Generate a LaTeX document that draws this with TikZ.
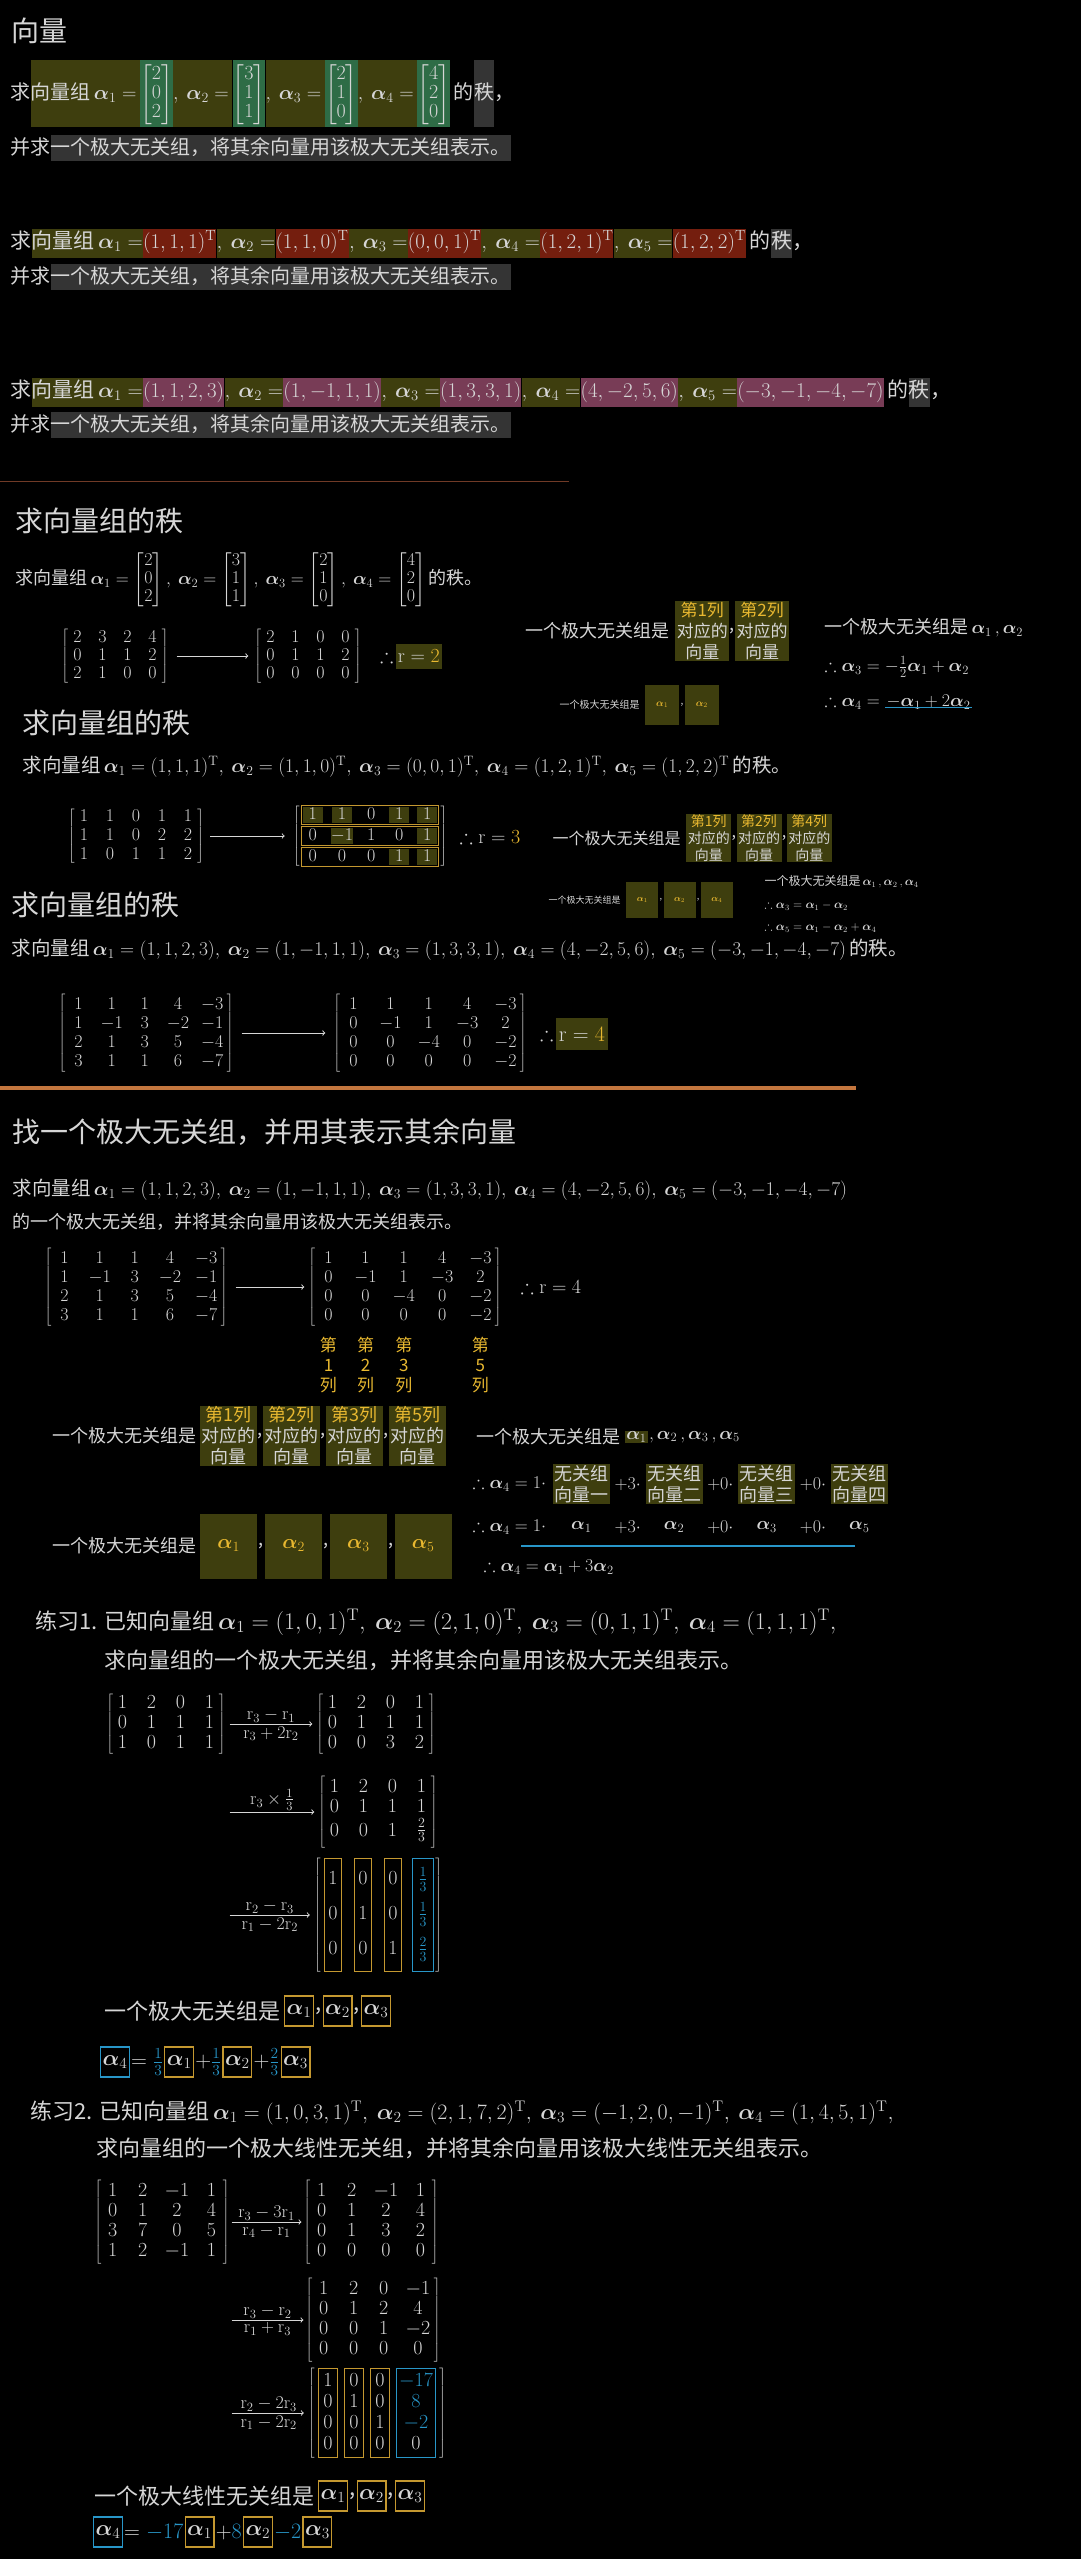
\documentclass[tikz,border=0pt]{standalone}
\usepackage{fix-cm}
\usepackage{amsmath,amssymb}
\usepackage[no-math]{fontspec}
\setmainfont{Noto Sans CJK SC}
\usetikzlibrary{positioning,matrix,fit}

\definecolor{txt}{RGB}{214,214,214}
\definecolor{olv}{RGB}{62,62,14}
\definecolor{grn}{RGB}{46,108,70}
\definecolor{rdb}{RGB}{116,30,14}
\definecolor{pnk}{RGB}{120,60,86}
\definecolor{gry}{RGB}{52,52,52}
\definecolor{yel}{RGB}{232,184,48}
\definecolor{ybox}{RGB}{196,152,48}
\definecolor{blu}{RGB}{40,150,200}
\definecolor{org}{RGB}{196,118,62}
\definecolor{brn}{RGB}{112,58,38}

\newcommand\al[1]{\boldsymbol{\alpha}_{#1}}
\newcommand\rw[1]{\mathrm{r}_{#1}}
\newcommand\Tp{^{\mathrm{T}}}

\tikzset{
  f9/.style={font=\fontsize{9}{11}\selectfont},
  f10/.style={font=\fontsize{10}{12}\selectfont},
  f12/.style={font=\fontsize{12}{15}\selectfont},
  f16/.style={font=\fontsize{16}{19}\selectfont},
  f18/.style={font=\fontsize{18}{18}\selectfont},
  f19/.style={font=\fontsize{19.5}{19.5}\selectfont},
  f20/.style={font=\fontsize{20}{20}\selectfont},
  f22/.style={font=\fontsize{22}{24}\selectfont},
  f28/.style={font=\fontsize{28}{32}\selectfont},
  tall/.style={inner sep=0pt, font=\fontsize{20}{19}\selectfont, text height=40pt, text depth=27pt},
  low/.style={inner sep=0pt, f20, text height=19pt, text depth=7pt},
  mid/.style={inner sep=0pt, font=\fontsize{21}{21}\selectfont, text height=20pt, text depth=9pt},
  colbox/.style={fill=olv, align=center, inner sep=1pt},
  abox/.style={fill=olv, text=yel, inner sep=0pt},
  ybx/.style={draw=ybox, line width=1.2pt, inner sep=2pt},
  bbx/.style={draw=blu, line width=1.2pt, inner sep=2pt},
  mat/.style={matrix of math nodes, left delimiter={[}, right delimiter={]},
    inner sep=2pt, row sep=0pt, column sep=#1,
    every delimiter/.style={minimum width=0pt, text height={}, text depth={}},
    nodes={anchor=center, inner sep=0pt, minimum width=12pt}},
  arr/.style={->, line width=1pt, draw=txt},
}

\begin{document}
\begin{tikzpicture}[x=1pt, y=-1pt, every node/.append style={text=txt}]
\useasboundingbox (0,0) rectangle (1081,2559);
\fill[black] (0,0) rectangle (1081,2559);

% ---- 向量
\node[f28, anchor=west] (t1) at (8,31) {向量};
\node[tall, anchor=west] (a1) at (10,93) {求};
\node[tall, fill=olv, right=0pt of a1] (a2) {向量组\,$\al1=$\,};
\node[tall, fill=grn, right=0pt of a2] (a3) {$\begin{bmatrix}2\\0\\2\end{bmatrix}$};
\node[tall, fill=olv, right=0pt of a3] (a4) {$,\ \al2=$\,};
\node[tall, fill=grn, right=0pt of a4] (a5) {$\begin{bmatrix}3\\1\\1\end{bmatrix}$};
\node[tall, fill=olv, right=0pt of a5] (a6) {$,\ \al3=$\,};
\node[tall, fill=grn, right=0pt of a6] (a7) {$\begin{bmatrix}2\\1\\0\end{bmatrix}$};
\node[tall, fill=olv, right=0pt of a7] (a8) {$,\ \al4=$\,};
\node[tall, fill=grn, right=0pt of a8] (a9) {$\begin{bmatrix}4\\2\\0\end{bmatrix}$};
\node[tall, right=0pt of a9] (a10) {\,的};
\node[tall, fill=gry, right=0pt of a10] (a11) {秩};
\node[tall, right=0pt of a11] (a12) {，};
\node[low, anchor=west] (b1) at (10,148) {并求};
\node[low, fill=gry, right=0pt of b1] (b2) {一个极大无关组，将其余向量用该极大无关组表示。};

\node[mid, anchor=west] (c1) at (10,243) {求};
\node[mid, fill=olv, right=0pt of c1] (c2) {向量组\,$\al1=$};
\node[mid, fill=rdb, right=0pt of c2] (c3) {$(1,1,1)\Tp$};
\node[mid, fill=olv, right=0pt of c3] (c4) {$,\ \al2=$};
\node[mid, fill=rdb, right=0pt of c4] (c5) {$(1,1,0)\Tp$};
\node[mid, fill=olv, right=0pt of c5] (c6) {$,\ \al3=$};
\node[mid, fill=rdb, right=0pt of c6] (c7) {$(0,0,1)\Tp$};
\node[mid, fill=olv, right=0pt of c7] (c8) {$,\ \al4=$};
\node[mid, fill=rdb, right=0pt of c8] (c9) {$(1,2,1)\Tp$};
\node[mid, fill=olv, right=0pt of c9] (c10) {$,\ \al5=$};
\node[mid, fill=rdb, right=0pt of c10] (c11) {$(1,2,2)\Tp$};
\node[mid, right=0pt of c11] (c12) {\,的};
\node[mid, fill=gry, right=0pt of c12] (c13) {秩};
\node[mid, right=0pt of c13] (c14) {，};
\node[low, anchor=west] (d1) at (10,277) {并求};
\node[low, fill=gry, right=0pt of d1] (d2) {一个极大无关组，将其余向量用该极大无关组表示。};

\node[mid, anchor=west] (e1) at (10,392) {求};
\node[mid, fill=olv, right=0pt of e1] (e2) {向量组\,$\al1=$};
\node[mid, fill=pnk, right=0pt of e2] (e3) {$(1,1,2,3)$};
\node[mid, fill=olv, right=0pt of e3] (e4) {$,\ \al2=$};
\node[mid, fill=pnk, right=0pt of e4] (e5) {$(1,-1,1,1)$};
\node[mid, fill=olv, right=0pt of e5] (e6) {$,\ \al3=$};
\node[mid, fill=pnk, right=0pt of e6] (e7) {$(1,3,3,1)$};
\node[mid, fill=olv, right=0pt of e7] (e8) {$,\ \al4=$};
\node[mid, fill=pnk, right=0pt of e8] (e9) {$(4,-2,5,6)$};
\node[mid, fill=olv, right=0pt of e9] (e10) {$,\ \al5=$};
\node[mid, fill=pnk, right=0pt of e10] (e11) {$(-3,-1,-4,-7)$};
\node[mid, right=0pt of e11] (e12) {\,的};
\node[mid, fill=gry, right=0pt of e12] (e13) {秩};
\node[mid, right=0pt of e13] (e14) {，};
\node[low, anchor=west] (f1) at (10,425) {并求};
\node[low, fill=gry, right=0pt of f1] (f2) {一个极大无关组，将其余向量用该极大无关组表示。};

\draw[brn, line width=1pt] (0,481) -- (569,481);

% ---- 求向量组的秩 (1)
\node[f28, anchor=west] (t2) at (12,521) {求向量组的秩};
\node[f18, anchor=west] (q2) at (12,580) {求向量组\,$\al1=\begin{bmatrix}2\\0\\2\end{bmatrix},\ \al2=\begin{bmatrix}3\\1\\1\end{bmatrix},\ \al3=\begin{bmatrix}2\\1\\0\end{bmatrix},\ \al4=\begin{bmatrix}4\\2\\0\end{bmatrix}$\,的秩。};
\matrix[mat=13pt, nodes={f18, text height=13pt, text depth=5pt}] (m2a) at (115,656) {2&3&2&4\\0&1&1&2\\2&1&0&0\\};
\matrix[mat=13pt, nodes={f18, text height=13pt, text depth=5pt}] (m2b) at (308,656) {2&1&0&0\\0&1&1&2\\0&0&0&0\\};
\draw[arr, shorten <=16pt, shorten >=14pt] (m2a.east) -- (m2b.west);
\node[f20, anchor=west, inner sep=0pt] (th2) at (380,656) {$\therefore$};
\node[f20, fill=olv, right=2pt of th2, minimum height=25pt, inner sep=2pt] (rk2) {$\mathrm{r}=\textcolor{yel}{2}$};

\node[f18, anchor=west] (g2) at (522,631) {一个极大无关组是};
\node[colbox, font=\fontsize{17}{21}\selectfont, text width=52pt, right=2pt of g2] (c21) {\textcolor{yel}{第1列}\\对应的\\向量};
\node[f18, inner sep=0pt, right=0pt of c21] (k21) {,};
\node[colbox, font=\fontsize{17}{21}\selectfont, text width=52pt, right=0pt of k21] (c22) {\textcolor{yel}{第2列}\\对应的\\向量};
\node[f10, anchor=west] (h2) at (556,705) {一个极大无关组是};
\node[abox, f10, minimum width=34pt, minimum height=40pt, right=2pt of h2] (s21) {$\al1$};
\node[f10, inner sep=1pt, right=0pt of s21] (sk2) {,};
\node[abox, f10, minimum width=34pt, minimum height=40pt, right=0pt of sk2] (s22) {$\al2$};
\node[f18, anchor=west] (r2a) at (821,628) {一个极大无关组是\,$\al1\,,\al2$};
\node[f18, anchor=west] (r2b) at (821,667) {$\therefore\al3=-\frac{1}{2}\al1+\al2$};
\node[f18, anchor=west] (r2c) at (821,702) {$\therefore\al4=$};
\node[f18, inner sep=1pt, right=2pt of r2c] (r2d) {$-\al1+2\al2$};
\draw[blu, line width=1.6pt] ([yshift=3pt]r2d.south west) -- ([yshift=3pt]r2d.south east);

% ---- 求向量组的秩 (2)
\node[f28, anchor=west] (t3) at (19,723) {求向量组的秩};
\node[f19, anchor=west] (q3) at (19,767) {求向量组\,$\al1=(1,1,1)\Tp,\ \al2=(1,1,0)\Tp,\ \al3=(0,0,1)\Tp,\ \al4=(1,2,1)\Tp,\ \al5=(1,2,2)\Tp$\,的秩。};
\matrix[mat=14pt, row sep=3pt, nodes={f18, text height=12pt, text depth=4pt}] (m3a) at (136,836) {1&1&0&1&1\\1&1&0&2&2\\1&0&1&1&2\\};
\matrix[mat=8pt, row sep=5pt, nodes={f18, text height=12pt, text depth=4pt, minimum width=20pt}] (m3b) at (370,836) {|[fill=olv]|1&|[fill=olv]|1&0&|[fill=olv]|1&|[fill=olv]|1\\0&|[fill=olv]|-1&1&0&|[fill=olv]|1\\0&0&0&|[fill=olv]|1&|[fill=olv]|1\\};
\node[ybx, inner sep=1pt, fit=(m3b-1-1)(m3b-1-5)] (w31) {};
\node[ybx, inner sep=1pt, fit=(m3b-2-1)(m3b-2-5)] (w32) {};
\node[ybx, inner sep=1pt, fit=(m3b-3-1)(m3b-3-5)] (w33) {};
\draw[arr, shorten <=14pt, shorten >=16pt] (m3a.east) -- (m3b.west);
\node[f20, anchor=west] (th3) at (456,837) {$\therefore\mathrm{r}=\textcolor{yel}{3}$};

\node[f16, anchor=west] (g3) at (549,838) {一个极大无关组是};
\node[colbox, font=\fontsize{14}{17}\selectfont, text width=43pt, right=2pt of g3] (c31) {\textcolor{yel}{第1列}\\对应的\\向量};
\node[f16, inner sep=0pt, right=0pt of c31] (k31) {,};
\node[colbox, font=\fontsize{14}{17}\selectfont, text width=43pt, right=0pt of k31] (c32) {\textcolor{yel}{第2列}\\对应的\\向量};
\node[f16, inner sep=0pt, right=0pt of c32] (k32) {,};
\node[colbox, font=\fontsize{14}{17}\selectfont, text width=43pt, right=0pt of k32] (c33) {\textcolor{yel}{第4列}\\对应的\\向量};
\node[f9, anchor=west] (h3) at (545,900) {一个极大无关组是};
\node[abox, f9, minimum width=32pt, minimum height=36pt, right=2pt of h3] (s31) {$\al1$};
\node[f9, inner sep=1pt, right=0pt of s31] (sk31) {,};
\node[abox, f9, minimum width=32pt, minimum height=36pt, right=0pt of sk31] (s32) {$\al2$};
\node[f9, inner sep=1pt, right=0pt of s32] (sk32) {,};
\node[abox, f9, minimum width=32pt, minimum height=36pt, right=0pt of sk32] (s33) {$\al4$};
\node[f12, anchor=west] (r3a) at (761,882) {一个极大无关组是\,$\al1\,,\al2\,,\al4$};
\node[f12, anchor=west] (r3b) at (761,905) {$\therefore\al3=\al1-\al2$};
\node[f12, anchor=west] (r3c) at (761,927) {$\therefore\al5=\al1-\al2+\al4$};

% ---- 求向量组的秩 (3)
\node[f28, anchor=west] (t4) at (8,905) {求向量组的秩};
\node[f19, anchor=west] (q4) at (8,950) {求向量组\,$\al1=(1,1,2,3),\ \al2=(1,-1,1,1),\ \al3=(1,3,3,1),\ \al4=(4,-2,5,6),\ \al5=(-3,-1,-4,-7)$\,的秩。};
\matrix[mat=12pt, nodes={f18, text height=14pt, text depth=5pt, minimum width=20pt}] (m4a) at (146,1033) {1&1&1&4&-3\\1&-1&3&-2&-1\\2&1&3&5&-4\\3&1&1&6&-7\\};
\matrix[mat=16pt, nodes={f18, text height=14pt, text depth=5pt, minimum width=20pt}] (m4b) at (430,1033) {1&1&1&4&-3\\0&-1&1&-3&2\\0&0&-4&0&-2\\0&0&0&0&-2\\};
\draw[arr, shorten <=16pt, shorten >=16pt] (m4a.east) -- (m4b.west);
\node[f20, anchor=west, inner sep=0pt] (th4) at (540,1034) {$\therefore$};
\node[f22, fill=olv, right=2pt of th4, minimum height=32pt, inner sep=3pt] (rk4) {$\mathrm{r}=\textcolor{yel}{4}$};

\draw[org, line width=4pt] (0,1088) -- (856,1088);

% ---- 找一个极大无关组
\node[f28, anchor=west] (t5) at (9,1132) {找一个极大无关组，并用其表示其余向量};
\node[f19, anchor=west] (q5a) at (9,1190) {求向量组\,$\al1=(1,1,2,3),\ \al2=(1,-1,1,1),\ \al3=(1,3,3,1),\ \al4=(4,-2,5,6),\ \al5=(-3,-1,-4,-7)$};
\node[f18, anchor=west] (q5b) at (9,1222) {的一个极大无关组，并将其余向量用该极大无关组表示。};
\matrix[mat=14pt, nodes={f18, text height=14pt, text depth=5pt, minimum width=20pt}] (m5a) at (136,1287) {1&1&1&4&-3\\1&-1&3&-2&-1\\2&1&3&5&-4\\3&1&1&6&-7\\};
\matrix[mat=16pt, nodes={f18, text height=14pt, text depth=5pt, minimum width=20pt}] (m5b) at (405,1287) {1&1&1&4&-3\\0&-1&1&-3&2\\0&0&-4&0&-2\\0&0&0&0&-2\\};
\draw[arr, shorten <=16pt, shorten >=12pt] (m5a.east) -- (m5b.west);
\node[f20, anchor=west] (th5) at (517,1287) {$\therefore\mathrm{r}=4$};
\node[text=yel, align=center, font=\fontsize{17}{20}\selectfont, below=8pt of m5b-4-1] (L1) {第\\1\\列};
\node[text=yel, align=center, font=\fontsize{17}{20}\selectfont, below=8pt of m5b-4-2] (L2) {第\\2\\列};
\node[text=yel, align=center, font=\fontsize{17}{20}\selectfont, below=8pt of m5b-4-3] (L3) {第\\3\\列};
\node[text=yel, align=center, font=\fontsize{17}{20}\selectfont, below=8pt of m5b-4-5] (L5) {第\\5\\列};

\node[f18, anchor=west] (g5) at (49,1436) {一个极大无关组是};
\node[colbox, font=\fontsize{18}{21}\selectfont, text width=55pt, right=0pt of g5] (c51) {\textcolor{yel}{第1列}\\对应的\\向量};
\node[f18, inner sep=0pt, right=0pt of c51] (k51) {,};
\node[colbox, font=\fontsize{18}{21}\selectfont, text width=55pt, right=0pt of k51] (c52) {\textcolor{yel}{第2列}\\对应的\\向量};
\node[f18, inner sep=0pt, right=0pt of c52] (k52) {,};
\node[colbox, font=\fontsize{18}{21}\selectfont, text width=55pt, right=0pt of k52] (c53) {\textcolor{yel}{第3列}\\对应的\\向量};
\node[f18, inner sep=0pt, right=0pt of c53] (k53) {,};
\node[colbox, font=\fontsize{18}{21}\selectfont, text width=55pt, right=0pt of k53] (c54) {\textcolor{yel}{第5列}\\对应的\\向量};

\node[f18, anchor=west] (g6) at (49,1546) {一个极大无关组是};
\node[abox, f20, minimum width=57pt, minimum height=65pt, right=0pt of g6] (s51) {$\al1$};
\node[f18, inner sep=1pt, right=0pt of s51] (sk51) {,};
\node[abox, f20, minimum width=57pt, minimum height=65pt, right=0pt of sk51] (s52) {$\al2$};
\node[f18, inner sep=1pt, right=0pt of s52] (sk52) {,};
\node[abox, f20, minimum width=57pt, minimum height=65pt, right=0pt of sk52] (s53) {$\al3$};
\node[f18, inner sep=1pt, right=0pt of s53] (sk53) {,};
\node[abox, f20, minimum width=57pt, minimum height=65pt, right=0pt of sk53] (s55) {$\al5$};

\node[f18, anchor=west] (r5a) at (473,1437) {一个极大无关组是};
\node[f18, fill=olv, inner sep=1pt, right=1pt of r5a] (r5b) {$\al1$};
\node[f18, inner sep=1pt, right=0pt of r5b] (r5c) {$,\al2\,,\al3\,,\al5$};
\node[f18, anchor=west] (r5d) at (469,1484) {$\therefore\al4=1\cdot$};
\node[colbox, font=\fontsize{18}{21}\selectfont, text width=55pt, right=3pt of r5d] (w51) {无关组\\向量一};
\node[f18, right=1pt of w51] (p51) {$+3\cdot$};
\node[colbox, font=\fontsize{18}{21}\selectfont, text width=55pt, right=1pt of p51] (w52) {无关组\\向量二};
\node[f18, right=1pt of w52] (p52) {$+0\cdot$};
\node[colbox, font=\fontsize{18}{21}\selectfont, text width=55pt, right=1pt of p52] (w53) {无关组\\向量三};
\node[f18, right=1pt of w53] (p53) {$+0\cdot$};
\node[colbox, font=\fontsize{18}{21}\selectfont, text width=55pt, right=1pt of p53] (w54) {无关组\\向量四};
\node[f18, anchor=west] (r5e) at (469,1527) {$\therefore\al4=1\cdot$};
\node[f18] (v51) at (w51 |- r5e) {$\al1$};
\node[f18] (q51) at (p51 |- r5e) {$+3\cdot$};
\node[f18] (v52) at (w52 |- r5e) {$\al2$};
\node[f18] (q52) at (p52 |- r5e) {$+0\cdot$};
\node[f18] (v53) at (w53 |- r5e) {$\al3$};
\node[f18] (q53) at (p53 |- r5e) {$+0\cdot$};
\node[f18] (v55) at (w54 |- r5e) {$\al5$};
\coordinate (u1) at (521,1546);
\coordinate (u2) at (855,1546);
\draw[blu, line width=2.5pt] (u1) -- (u2);
\node[f18, anchor=west] (r5f) at (480,1567) {$\therefore\al4=\al1+3\al2$};

% ---- 练习1
\node[f22, anchor=west] (x1a) at (32,1622) {练习1. 已知向量组\,{\fontsize{24}{24}\selectfont$\al1=(1,0,1)\Tp,\ \al2=(2,1,0)\Tp,\ \al3=(0,1,1)\Tp,\ \al4=(1,1,1)\Tp,$}};
\node[f22, anchor=west] (x1b) at (101,1660) {求向量组的一个极大无关组，并将其余向量用该极大无关组表示。};
\matrix[mat=17pt, nodes={f20, text height=14pt, text depth=6pt}] (m6a) at (166,1724) {1&2&0&1\\0&1&1&1\\1&0&1&1\\};
\matrix[mat=17pt, nodes={f20, text height=14pt, text depth=6pt}] (m6b) at (376,1724) {1&2&0&1\\0&1&1&1\\0&0&3&2\\};
\draw[arr, shorten <=12pt, shorten >=12pt] (m6a.east) -- node[f18, above, inner sep=1pt] (o61) {$\rw3-\rw1$} node[f18, below, inner sep=2pt] (o62) {$\rw3+2\rw2$} (m6b.west);
\matrix[mat=17pt, nodes={f20, text height=14pt, text depth=6pt}] (m6c) at (378,1812) {1&2&0&1\\0&1&1&1\\0&0&1&|[text height=17pt, text depth=11pt]|\frac{2}{3}\\};
\coordinate (k6c) at (m6a.east |- m6c.west);
\draw[arr, shorten <=12pt, shorten >=12pt] (k6c) -- node[f18, above, inner sep=1pt] (o63) {$\rw3\times\frac{1}{3}$} (m6c.west);
\matrix[mat=18pt, inner sep=5pt, nodes={f20, text height=22pt, text depth=13pt}] (m6d) at (378,1915) {1&0&0&|[text=blu]|\frac{1}{3}\\0&1&0&|[text=blu]|\frac{1}{3}\\0&0&1&|[text=blu]|\frac{2}{3}\\};
\node[ybx, inner xsep=2pt, inner ysep=4pt, fit=(m6d-1-1)(m6d-3-1)] (z61) {};
\node[ybx, inner xsep=2pt, inner ysep=4pt, fit=(m6d-1-2)(m6d-3-2)] (z62) {};
\node[ybx, inner xsep=2pt, inner ysep=4pt, fit=(m6d-1-3)(m6d-3-3)] (z63) {};
\node[bbx, inner xsep=4pt, inner ysep=4pt, fit=(m6d-1-4)(m6d-3-4)] (z64) {};
\coordinate (k6d) at (m6a.east |- m6d.west);
\draw[arr, shorten <=12pt, shorten >=12pt] (k6d) -- node[f18, above, inner sep=1pt] (o64) {$\rw2-\rw3$} node[f18, below, inner sep=2pt] (o65) {$\rw1-2\rw2$} (m6d.west);

\node[f22, anchor=west] (g7) at (101,2011) {一个极大无关组是};
\node[f22, ybx, minimum height=30pt, right=0pt of g7] (v71) {$\al1$};
\node[f22, inner sep=1pt, right=0pt of v71] (vk71) {,};
\node[f22, ybx, minimum height=30pt, right=0pt of vk71] (v72) {$\al2$};
\node[f22, inner sep=1pt, right=0pt of v72] (vk72) {,};
\node[f22, ybx, minimum height=30pt, right=0pt of vk72] (v73) {$\al3$};
\node[f22, bbx, minimum height=30pt, anchor=west] (u74) at (100,2062) {$\al4$};
\node[f22, inner sep=1pt, right=0pt of u74] (ue1) {$=\textcolor{blu}{\frac{1}{3}}$};
\node[f22, ybx, minimum height=30pt, right=0pt of ue1] (u71) {$\al1$};
\node[f22, inner sep=1pt, right=0pt of u71] (ue2) {$+\textcolor{blu}{\frac{1}{3}}$};
\node[f22, ybx, minimum height=30pt, right=0pt of ue2] (u72) {$\al2$};
\node[f22, inner sep=1pt, right=0pt of u72] (ue3) {$+\textcolor{blu}{\frac{2}{3}}$};
\node[f22, ybx, minimum height=30pt, right=0pt of ue3] (u73) {$\al3$};

% ---- 练习2
\node[f22, anchor=west] (x2a) at (27,2113) {练习2. 已知向量组\,$\al1=(1,0,3,1)\Tp,\ \al2=(2,1,7,2)\Tp,\ \al3=(-1,2,0,-1)\Tp,\ \al4=(1,4,5,1)\Tp,$};
\node[f22, anchor=west] (x2b) at (93,2148) {求向量组的一个极大线性无关组，并将其余向量用该极大线性无关组表示。};
\matrix[mat=14pt, nodes={f20, text height=14pt, text depth=6pt, minimum width=16pt}] (m7a) at (162,2222) {1&2&-1&1\\0&1&2&4\\3&7&0&5\\1&2&-1&1\\};
\matrix[mat=14pt, nodes={f20, text height=14pt, text depth=6pt, minimum width=16pt}] (m7b) at (371,2222) {1&2&-1&1\\0&1&2&4\\0&1&3&2\\0&0&0&0\\};
\draw[arr, shorten <=10pt, shorten >=10pt] (m7a.east) -- node[f18, above, inner sep=1pt] (o71) {$\rw3-3\rw1$} node[f18, below, inner sep=2pt] (o72) {$\rw4-\rw1$} (m7b.west);
\matrix[mat=14pt, nodes={f20, text height=14pt, text depth=6pt, minimum width=16pt}] (m7c) at (373,2320) {1&2&0&-1\\0&1&2&4\\0&0&1&-2\\0&0&0&0\\};
\coordinate (k7c) at (m7a.east |- m7c.west);
\draw[arr, shorten <=10pt, shorten >=10pt] (k7c) -- node[f18, above, inner sep=1pt] (o73) {$\rw3-\rw2$} node[f18, below, inner sep=2pt] (o74) {$\rw1+\rw3$} (m7c.west);
\matrix[mat=12pt, inner sep=5pt, nodes={f20, text height=15pt, text depth=6pt, minimum width=14pt}] (m7d) at (377,2413) {1&0&0&|[text=blu]|-17\\0&1&0&|[text=blu]|8\\0&0&1&|[text=blu]|-2\\0&0&0&0\\};
\node[ybx, inner xsep=2pt, inner ysep=2pt, fit=(m7d-1-1)(m7d-4-1)] (z71) {};
\node[ybx, inner xsep=2pt, inner ysep=2pt, fit=(m7d-1-2)(m7d-4-2)] (z72) {};
\node[ybx, inner xsep=2pt, inner ysep=2pt, fit=(m7d-1-3)(m7d-4-3)] (z73) {};
\node[bbx, inner xsep=2pt, inner ysep=2pt, fit=(m7d-1-4)(m7d-4-4)] (z74) {};
\coordinate (k7d) at (m7a.east |- m7d.west);
\draw[arr, shorten <=10pt, shorten >=12pt] (k7d) -- node[f18, above, inner sep=1pt] (o75) {$\rw2-2\rw3$} node[f18, below, inner sep=2pt] (o76) {$\rw1-2\rw2$} (m7d.west);

\node[f22, anchor=west] (g8) at (91,2496) {一个极大线性无关组是};
\node[f22, ybx, minimum height=30pt, right=0pt of g8] (v81) {$\al1$};
\node[f22, inner sep=1pt, right=0pt of v81] (vk81) {,};
\node[f22, ybx, minimum height=30pt, right=0pt of vk81] (v82) {$\al2$};
\node[f22, inner sep=1pt, right=0pt of v82] (vk82) {,};
\node[f22, ybx, minimum height=30pt, right=0pt of vk82] (v83) {$\al3$};
\node[f22, bbx, minimum height=30pt, anchor=west] (u84) at (93,2532) {$\al4$};
\node[f22, inner sep=1pt, right=0pt of u84] (uf1) {$=\textcolor{blu}{-17}$};
\node[f22, ybx, minimum height=30pt, right=0pt of uf1] (u81) {$\al1$};
\node[f22, inner sep=1pt, right=0pt of u81] (uf2) {$+\textcolor{blu}{8}$};
\node[f22, ybx, minimum height=30pt, right=0pt of uf2] (u82) {$\al2$};
\node[f22, inner sep=1pt, right=0pt of u82] (uf3) {$\textcolor{blu}{-2}$};
\node[f22, ybx, minimum height=30pt, right=0pt of uf3] (u83) {$\al3$};
\end{tikzpicture}
\end{document}
